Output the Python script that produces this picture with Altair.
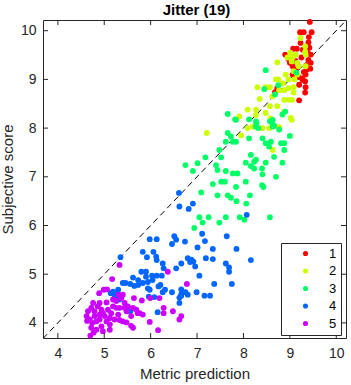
import altair as alt
import pandas as pd

# ---- data ----
title_text = ["Jitter (19)"]
groups = ["1", "2", "3", "4", "5"]
colors = ["#ff0000", "#ccff00", "#00ff66", "#0066ff", "#cc00ff"]

x1 = [9.43, 9.22, 9.30, 9.47, 9.41, 9.40, 9.07, 9.15, 8.90, 9.45, 8.97, 9.40, 9.45, 9.36,
      9.34, 9.28, 9.33, 9.20, 9.34, 9.33, 8.73, 8.68, 9.20, 9.06, 9.00, 9.06, 9.13, 9.23,
      9.28, 9.38, 9.42, 9.25, 9.18, 9.35, 9.30, 9.12, 9.44, 9.26]
y1 = [10.18, 9.97, 9.97, 9.97, 9.87, 9.76, 9.63, 9.63, 9.51, 9.51, 9.42, 9.40, 9.34, 9.20,
      9.10, 8.99, 8.96, 8.89, 8.84, 8.73, 8.82, 8.74, 8.57, 9.10, 9.34, 9.27, 9.20, 9.75,
      9.61, 9.55, 9.65, 9.45, 9.05, 9.28, 9.15, 9.38, 9.22, 9.02]

x2 = [8.73, 8.48, 8.57, 8.30, 8.70, 8.75, 8.91, 8.97, 9.08, 8.97, 8.77, 8.88, 8.88, 8.98,
      9.05, 9.08, 8.27, 8.09, 7.91, 8.27, 8.48, 8.57, 8.73, 8.88, 9.02, 8.41, 8.55, 8.77,
      8.09, 9.33, 9.23, 9.34, 9.33, 9.13, 9.16, 9.04, 9.19, 9.08, 9.16, 9.01, 8.95, 9.06,
      9.34, 7.21, 7.95, 8.63, 8.77, 9.04, 8.20, 8.62, 8.35, 8.85, 9.10, 8.58]
y2 = [9.35, 8.84, 8.84, 8.84, 9.00, 9.00, 9.10, 9.00, 8.84, 8.82, 8.78, 8.78, 8.58, 8.58,
      8.58, 8.73, 8.38, 8.38, 8.24, 8.27, 8.31, 8.45, 8.45, 8.34, 8.21, 8.00, 8.00, 8.00,
      8.00, 9.68, 9.85, 9.51, 9.57, 9.51, 9.34, 9.37, 9.27, 9.17, 9.10, 9.55, 9.45, 9.45,
      9.27, 7.90, 7.85, 7.55, 8.02, 8.17, 8.03, 8.65, 8.60, 8.92, 9.00, 8.20]

x3 = [8.48, 9.14, 7.66, 7.82, 8.12, 8.28, 8.45, 8.68, 8.75, 8.90, 8.84, 8.63, 8.66, 8.32,
      8.61, 7.84, 8.27, 8.27, 8.57, 8.63, 7.66, 7.73, 7.77, 7.62, 7.84, 8.12, 8.41, 8.48,
      8.59, 8.55, 8.77, 8.81, 8.88, 8.88, 9.00, 7.48, 7.18, 7.01, 6.75, 6.91, 7.41, 7.44,
      7.52, 7.62, 7.77, 7.87, 8.16, 8.05, 8.23, 8.27, 8.16, 8.23, 8.40, 8.48, 8.41, 8.84,
      8.66, 8.70, 7.34, 7.52, 7.60, 7.84, 8.05, 8.40, 8.43, 7.09, 7.44, 7.66, 7.73, 7.85,
      8.06, 8.14, 7.05, 7.25, 7.62, 7.92, 8.02, 8.57, 6.94, 7.12, 7.48]
y3 = [9.19, 9.14, 8.29, 8.18, 8.18, 8.10, 8.80, 8.69, 8.88, 8.34, 8.28, 8.17, 8.05, 8.00,
      8.12, 8.17, 8.14, 8.03, 8.14, 8.03, 7.90, 7.83, 7.72, 7.72, 7.72, 7.79, 7.79, 7.69,
      7.72, 7.62, 7.97, 7.69, 7.69, 7.55, 7.84, 7.55, 7.40, 7.28, 7.24, 7.12, 7.24, 7.14,
      7.40, 7.12, 7.07, 7.07, 7.45, 7.29, 7.31, 7.35, 7.22, 7.17, 7.17, 7.29, 7.05, 7.29,
      7.41, 7.00, 6.85, 6.90, 6.90, 6.79, 6.90, 6.83, 6.79, 6.68, 6.62, 6.62, 6.57, 6.50,
      6.45, 6.62, 6.17, 6.17, 6.17, 6.17, 6.12, 6.17, 5.95, 6.06, 6.06]

x4 = [6.61, 6.62, 6.82, 6.91, 8.07, 5.98, 6.13, 6.51, 6.55, 6.46, 6.74, 7.11, 7.17, 7.64,
      7.01, 7.34, 7.85, 5.83, 6.06, 5.35, 5.92, 6.12, 6.13, 6.26, 6.28, 6.55, 6.66, 6.80,
      6.88, 6.92, 6.85, 6.96, 7.19, 7.34, 7.62, 7.69, 7.69, 8.16, 7.05, 7.37, 7.75, 6.99,
      7.16, 7.28, 6.66, 6.66, 6.75, 6.80, 6.66, 6.62, 6.62, 6.15, 5.96, 6.08, 6.26, 6.31,
      6.46, 6.21, 6.17, 5.94, 5.98, 5.62, 5.73, 5.56, 5.46, 5.80, 5.90, 5.90, 5.83, 5.94,
      6.03, 6.04, 6.13, 6.24, 5.40, 5.30, 5.26, 5.19, 5.22, 5.27, 5.33, 5.56, 5.14, 5.65,
      5.73]
y4 = [6.67, 6.39, 6.34, 6.45, 6.22, 5.72, 5.72, 5.78, 5.71, 5.62, 5.67, 5.83, 5.68, 5.78,
      5.55, 5.52, 5.52, 5.46, 5.46, 5.35, 5.35, 5.36, 5.29, 5.22, 5.12, 5.12, 5.22, 5.33,
      5.30, 5.26, 5.25, 5.16, 5.33, 5.31, 5.22, 5.14, 5.05, 5.29, 4.97, 4.80, 4.80, 4.63,
      4.56, 4.56, 4.69, 4.59, 4.63, 4.58, 4.56, 4.52, 4.41, 4.22, 4.54, 4.53, 4.63, 4.68,
      4.63, 4.78, 4.75, 4.71, 4.68, 4.93, 4.88, 4.80, 4.82, 5.05, 5.05, 4.95, 4.82, 4.84,
      4.97, 4.88, 4.97, 4.97, 4.82, 4.68, 4.61, 4.64, 4.58, 4.48, 4.48, 4.24, 4.61, 4.76,
      4.78]

x5 = [6.37, 5.33, 5.17, 4.89, 4.99, 5.06, 5.31, 5.40, 5.37, 5.19, 5.26, 5.64, 5.81, 5.99,
      6.19, 6.78, 6.28, 6.28, 6.48, 6.66, 6.62, 5.98, 6.16, 5.72, 5.62, 5.51, 5.83,
      4.76, 4.90, 5.05, 4.86, 4.72, 4.65, 4.79, 4.94, 5.08, 5.19, 5.26, 5.33, 5.44, 5.44,
      5.48, 5.58, 5.69, 5.76, 4.62, 4.69, 4.79, 4.90, 5.01, 5.12, 5.22, 5.33, 5.40, 5.48,
      5.58, 5.62, 4.63, 4.74, 4.83, 4.90, 5.05, 5.12, 4.72, 4.83, 4.94, 4.97, 5.12, 4.70,
      4.77, 4.97, 5.15, 5.30]
y5 = [5.05, 5.19, 4.90, 4.61, 4.68, 4.69, 4.58, 4.58, 4.51, 4.48, 4.45, 4.51, 4.46, 4.51,
      4.51, 4.80, 4.31, 4.20, 4.24, 4.14, 4.07, 4.02, 3.85, 4.20, 4.31, 4.34, 4.17,
      4.41, 4.41, 4.42, 4.34, 4.31, 4.24, 4.24, 4.27, 4.27, 4.34, 4.31, 4.31, 4.31, 4.41,
      4.24, 4.14, 4.27, 4.20, 4.14, 4.07, 4.14, 4.17, 4.14, 4.10, 4.07, 4.06, 4.03, 4.01,
      3.94, 3.90, 4.04, 4.00, 4.03, 4.07, 4.03, 3.97, 3.90, 3.86, 3.93, 3.83, 3.86, 3.74,
      3.80, 4.20, 4.20, 4.17]

x_domain = [3.68, 10.21]
y_domain = [3.69, 10.22]
ticks = [4, 5, 6, 7, 8, 9, 10]
diag = [3.68, 10.21]

# ---- build table ----
rows = []
for g, xs_, ys_ in zip(groups, [x1, x2, x3, x4, x5], [y1, y2, y3, y4, y5]):
    for a, b in zip(xs_, ys_):
        rows.append({"x": a, "y": b, "g": g})
df = pd.DataFrame(rows)

W, H = 303, 318
FONT = "Liberation Sans"
AX = "#262626"

xs = alt.Scale(domain=x_domain, nice=False, zero=False)
ys = alt.Scale(domain=y_domain, nice=False, zero=False)

xaxis = alt.Axis(values=ticks, title="Metric prediction", ticks=False, tickSize=0, domain=False,
                 grid=False, labelPadding=8, labelFontSize=14, labelFont=FONT, labelColor=AX,
                 titleFontSize=15, titleFont=FONT, titleColor=AX, titleFontWeight="normal",
                 titlePadding=6)
yaxis = alt.Axis(values=ticks, title="Subjective score", ticks=False, tickSize=0, domain=False,
                 grid=False, labelPadding=7, labelFontSize=14, labelFont=FONT, labelColor=AX,
                 titleFontSize=15, titleFont=FONT, titleColor=AX, titleFontWeight="normal",
                 titlePadding=5)

diag_df = pd.DataFrame({"x": diag, "y": diag})
line = alt.Chart(diag_df).mark_line(color="black", strokeWidth=1, strokeDash=[6, 4], clip=True).encode(
    x=alt.X("x:Q", scale=xs, axis=xaxis),
    y=alt.Y("y:Q", scale=ys, axis=yaxis),
)

points = alt.Chart(df).mark_circle(size=34, opacity=1).encode(
    x=alt.X("x:Q", scale=xs, axis=xaxis),
    y=alt.Y("y:Q", scale=ys, axis=yaxis),
    color=alt.Color("g:N", scale=alt.Scale(domain=groups, range=colors),
                    legend=alt.Legend(title=None, orient="none", legendX=238, legendY=223,
                                      strokeColor=AX, fillColor="white", padding=4,
                                      symbolOffset=14, labelOffset=17, symbolSize=26,
                                      symbolType="circle", labelFontSize=13, labelFont=FONT,
                                      labelColor="black", rowPadding=3.5, symbolStrokeWidth=0)),
)

tdf = pd.DataFrame({"x": ticks, "y": ticks})
xt_bot = alt.Chart(tdf).mark_rule(color=AX, strokeWidth=1).encode(
    x=alt.X("x:Q", scale=xs, axis=xaxis), y=alt.value(H), y2=alt.value(H - 5))
xt_top = alt.Chart(tdf).mark_rule(color=AX, strokeWidth=1).encode(
    x=alt.X("x:Q", scale=xs, axis=xaxis), y=alt.value(0), y2=alt.value(5))
yt_left = alt.Chart(tdf).mark_rule(color=AX, strokeWidth=1).encode(
    y=alt.Y("y:Q", scale=ys, axis=yaxis), x=alt.value(0), x2=alt.value(5))
yt_right = alt.Chart(tdf).mark_rule(color=AX, strokeWidth=1).encode(
    y=alt.Y("y:Q", scale=ys, axis=yaxis), x=alt.value(W), x2=alt.value(W - 5))

title = alt.Chart(pd.DataFrame({"t": title_text})).mark_text(
    font=FONT, fontSize=15, fontWeight="bold", color="black", align="center",
    baseline="alphabetic", clip=False
).encode(text="t:N", x=alt.value(W / 2 + 2), y=alt.value(-5))

chart = alt.layer(line, points, xt_bot, xt_top, yt_left, yt_right, title).properties(
    width=W, height=H,
    autosize=alt.AutoSizeParams(type="none"),
    padding={"left": 43, "top": 20, "right": 5, "bottom": 47},
    background="white",
).configure_view(stroke=AX, strokeWidth=1)

chart.save("out.html", embed_options={"renderer": "svg", "actions": False})
